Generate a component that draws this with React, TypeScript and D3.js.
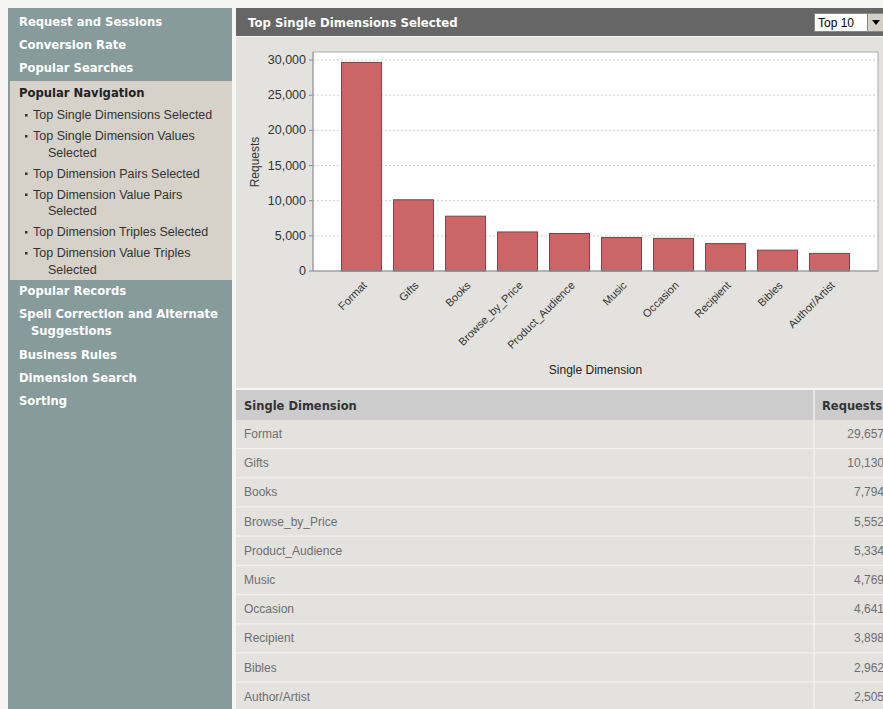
import React from "react";
import * as d3 from "d3";

const categories = ["Format", "Gifts", "Books", "Browse_by_Price", "Product_Audience", "Music", "Occasion", "Recipient", "Bibles", "Author/Artist"];
const requests = [29657, 10130, 7794, 5552, 5334, 4769, 4641, 3898, 2962, 2505];
const yTicks = [0, 5000, 10000, 15000, 20000, 25000, 30000];

const topNav = ["Request and Sessions", "Conversion Rate", "Popular Searches"];
const subNav = [
  ["Top Single Dimensions Selected"],
  ["Top Single Dimension Values", "Selected"],
  ["Top Dimension Pairs Selected"],
  ["Top Dimension Value Pairs", "Selected"],
  ["Top Dimension Triples Selected"],
  ["Top Dimension Value Triples", "Selected"],
];
const bottomNav = [["Popular Records"], ["Spell Correction and Alternate", "Suggestions"], ["Business Rules"], ["Dimension Search"], ["Sorting"]];

const FONT = "'Liberation Sans', Arial, sans-serif";
const BOLD = "'DejaVu Sans', Verdana, sans-serif";

export default function App() {
  const W = 883, H = 709;
  const plot = { l: 313, r: 878, t: 52, b: 271 };
  const y = d3.scaleLinear().domain([0, d3.max(requests)! * 1.05]).range([plot.b, plot.t]);
  const x = d3.scaleBand<string>().domain(categories).range([plot.l, plot.r]).paddingInner(0.23).paddingOuter(0.548);
  const fmt = d3.format(",");

  const tableTop = 390, headH = 30, rowH = 29.2;

  const sideLines: { text: string; x: number; y: number; bold: boolean; dark: boolean; bullet?: boolean }[] = [];
  topNav.forEach((t, i) => sideLines.push({ text: t, x: 19, y: 26 + i * 23, bold: true, dark: false }));
  sideLines.push({ text: "Popular Navigation", x: 19, y: 97, bold: true, dark: true });
  let sy = 119;
  subNav.forEach((lines) => {
    lines.forEach((t, j) => {
      sideLines.push({ text: t, x: j === 0 ? 33 : 48, y: sy, bold: false, dark: true, bullet: j === 0 });
      sy += j === lines.length - 1 ? 21 : 16.5;
    });
  });
  let by = 295;
  bottomNav.forEach((lines) => {
    lines.forEach((t, j) => {
      sideLines.push({ text: t, x: j === 0 ? 19 : 31, y: by, bold: true, dark: false });
      by += j === lines.length - 1 ? 23.3 : 17;
    });
  });

  return (
    <div style={{ position: "absolute", left: 0, top: 0 }}>
      <svg width={W} height={H} style={{ display: "block", fontFamily: FONT }}>
        <rect x={0} y={0} width={W} height={H} fill="#f5f5f3" />
        {/* sidebar */}
        <rect x={8} y={8} width={224} height={H - 8} fill="#879a9c" />
        <rect x={10} y={81} width={222} height={199} fill="#d6d1c9" />
        {sideLines.map((s, i) => (
          <g key={i}>
            {s.bullet && <rect x={25} y={s.y - 5} width={2.5} height={2.5} fill="#333" />}
            <text x={s.x} y={s.y} fontSize={s.bold ? 11.6 : 12.5} fontFamily={s.bold ? BOLD : FONT} fontWeight={s.bold ? "bold" : "normal"} fill={s.dark ? (s.bold ? "#222" : "#333") : "#fff"}>{s.text}</text>
          </g>
        ))}

        {/* header */}
        <rect x={236} y={8} width={W - 236} height={28} fill="#666666" />
        <text x={248} y={27} fontSize={11.7} fontFamily={BOLD} fontWeight="bold" fill="#fff">Top Single Dimensions Selected</text>
        <rect x={814.5} y={13.5} width={53} height={18} fill="#fff" stroke="#888" />
        <text x={818} y={27} fontSize={12} fill="#000">Top 10</text>
        <rect x={867.5} y={13.5} width={16} height={18} fill="#d4d0c8" stroke="#888" />
        <path d="M872,20 L880,20 L876,25 Z" fill="#000" />

        {/* chart area */}
        <rect x={236} y={37} width={W - 236} height={351} fill="#e3e2de" />
        <rect x={plot.l} y={plot.t} width={plot.r - plot.l} height={plot.b - plot.t} fill="#fff" stroke="#aaa" />
        {yTicks.map((t) => (
          <g key={t}>
            {t > 0 && <line x1={plot.l} x2={plot.r} y1={y(t)} y2={y(t)} stroke="#cfcfcf" strokeDasharray="2,2" />}
            <line x1={plot.l - 4} x2={plot.l} y1={y(t)} y2={y(t)} stroke="#888" />
            <text x={306} y={y(t) + 4} fontSize={12.5} textAnchor="end" fill="#333">{fmt(t)}</text>
          </g>
        ))}
        {categories.map((c, i) => (
          <rect key={c} x={x(c)!} y={y(requests[i])} width={x.bandwidth()} height={plot.b - y(requests[i])} fill="#cc6566" stroke="#555" strokeWidth={1} />
        ))}
        <line x1={plot.l} x2={plot.r} y1={plot.b} y2={plot.b} stroke="#999" />
        <line x1={plot.l} x2={plot.l} y1={plot.t} y2={plot.b} stroke="#999" />
        {categories.map((c) => {
          const cx = x(c)! + x.bandwidth() / 2 + 6;
          return (
            <text key={c} transform={`translate(${cx},${plot.b + 15}) rotate(-45)`} fontSize={11} textAnchor="end" fill="#333">{c}</text>
          );
        })}
        <text transform={`translate(259,162) rotate(-90)`} fontSize={12} textAnchor="middle" fill="#333">Requests</text>
        <text x={(plot.l + plot.r) / 2} y={374} fontSize={12} textAnchor="middle" fill="#222">Single Dimension</text>

        {/* table */}
        <rect x={236} y={388} width={W - 236} height={2} fill="#f5f5f3" />
        <rect x={236} y={tableTop} width={W - 236} height={headH} fill="#cccccc" />
        <text x={244} y={tableTop + 20} fontSize={11.5} fontFamily={BOLD} fontWeight="bold" fill="#333">Single Dimension</text>
        <text x={822} y={tableTop + 20} fontSize={11.5} fontFamily={BOLD} fontWeight="bold" fill="#333">Requests</text>
        {categories.map((c, i) => {
          const ry = tableTop + headH + i * rowH;
          return (
            <g key={c}>
              <rect x={236} y={ry} width={W - 236} height={rowH} fill="#e3e2de" />
              <line x1={236} x2={W} y1={ry + rowH - 0.5} y2={ry + rowH - 0.5} stroke="#f2f1ee" strokeWidth={1.5} />
              <text x={244} y={ry + 18} fontSize={12} fill="#6e6e6e">{c}</text>
              <text x={884} y={ry + 18} fontSize={12} textAnchor="end" fill="#6e6e6e">{fmt(requests[i])}</text>
            </g>
          );
        })}
        <line x1={814} x2={814} y1={tableTop} y2={H} stroke="#f2f1ee" strokeWidth={1.5} />
      </svg>
    </div>
  );
}
